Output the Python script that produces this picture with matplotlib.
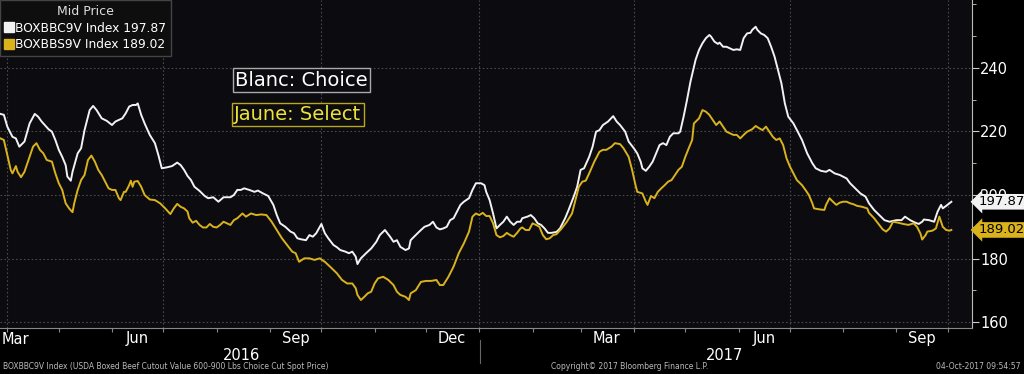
import matplotlib.pyplot as plt
import matplotlib.dates as mdates
from matplotlib.ticker import MultipleLocator, FixedLocator
from matplotlib.lines import Line2D
import pandas as pd

# jours depuis le 27 mars 2016
start = pd.Timestamp('2016-03-27')

choice_days = [1, 3, 5, 8, 10, 12, 15, 18, 21, 23, 25, 29, 31, 33, 35, 37, 39, 40, 42, 43,
               46, 48, 50, 53, 55, 57, 60, 63, 66, 68, 70, 72, 74, 76, 78, 80, 81, 83, 85, 88,
               91, 93, 95, 98, 101, 104, 106, 108, 110, 112, 114, 117, 120, 122, 125, 128, 131, 135, 137, 139,
               141, 143, 146, 149, 151, 154, 157, 160, 162, 164, 167, 170, 172, 174, 176, 179, 181, 183, 185, 188,
               190, 192, 195, 197, 199, 202, 204, 206, 208, 209, 211, 214, 217, 220, 222, 225, 228, 230, 232, 234,
               237, 239, 240, 242, 245, 248, 251, 253, 255, 257, 259, 261, 263, 265, 267, 269, 271, 274, 276, 278,
               281, 283, 284, 286, 288, 290, 292, 294, 296, 298, 300, 302, 304, 305, 308, 310, 312, 314, 316, 318,
               320, 322, 325, 327, 330, 332, 335, 337, 339, 341, 344, 346, 348, 350, 352, 355, 358, 360, 362, 365,
               367, 370, 372, 374, 375, 377, 379, 381, 383, 385, 387, 389, 391, 393, 396, 397, 399, 401, 403, 405,
               406, 408, 410, 412, 414, 415, 417, 419, 420, 422, 424, 426, 428, 430, 432, 434, 436, 438, 439, 441,
               442, 444, 446, 448, 450, 452, 454, 456, 458, 460, 463, 465, 468, 471, 474, 476, 479, 482, 484, 487,
               490, 494, 496, 499, 502, 505, 507, 510, 513, 516, 519, 523, 526, 528, 531, 534, 536, 538, 539, 542,
               545, 547, 549, 550, 552, 555]
choice = [225.5, 225.2, 221.5, 218.3, 217.8, 215.2, 216.8, 222.5, 225.5, 224.6, 223.1, 220.7, 219.9, 217.3, 214.2, 212.0, 209.4, 205.8, 204.5, 207.3,
          213.1, 214.7, 220.4, 226.7, 228.0, 226.7, 224.1, 223.3, 222.0, 223.1, 223.6, 224.1, 225.7, 227.8, 228.3, 228.3, 228.8, 225.2, 222.5, 218.9,
          216.3, 212.6, 208.4, 208.7, 209.1, 210.2, 209.4, 207.9, 206.0, 204.7, 202.6, 201.3, 199.7, 199.0, 199.3, 197.9, 199.3, 199.3, 200.0, 201.6,
          201.6, 202.1, 201.6, 201.0, 201.4, 200.5, 199.7, 196.9, 193.7, 191.1, 190.0, 188.5, 188.0, 186.4, 186.1, 185.8, 187.4, 186.9, 188.0, 190.9,
          188.0, 186.4, 184.3, 183.6, 182.7, 182.2, 181.7, 182.2, 180.6, 178.3, 180.1, 181.7, 183.2, 185.3, 187.4, 189.0, 186.9, 185.3, 185.8, 183.7,
          182.7, 183.2, 185.8, 186.9, 188.5, 190.0, 190.6, 191.6, 189.8, 189.2, 189.5, 190.0, 192.1, 192.7, 194.8, 196.9, 197.9, 199.0, 201.6, 203.7,
          203.7, 203.1, 201.0, 198.4, 194.2, 189.5, 190.6, 191.6, 193.2, 191.6, 190.6, 191.6, 191.6, 192.7, 193.2, 193.7, 192.7, 191.1, 190.6, 189.5,
          188.1, 188.1, 188.4, 189.5, 192.7, 195.3, 199.5, 202.6, 207.9, 208.4, 212.0, 215.2, 219.9, 220.4, 222.0, 223.1, 224.8, 223.1, 222.0, 219.9,
          216.8, 214.7, 213.1, 210.5, 208.4, 207.6, 208.9, 210.5, 213.1, 215.7, 216.3, 215.7, 218.3, 219.4, 219.4, 219.9, 224.6, 229.9, 235.6, 240.3,
          242.5, 245.6, 247.7, 249.3, 250.3, 249.8, 248.2, 247.5, 247.9, 246.6, 246.6, 246.1, 245.6, 245.8, 245.6, 249.3, 250.8, 251.0, 251.9, 252.9,
          251.9, 250.8, 250.3, 249.3, 246.6, 243.5, 239.3, 235.1, 228.8, 224.6, 222.5, 220.4, 217.3, 213.1, 210.0, 208.4, 207.6, 207.3, 207.9, 206.8,
          206.3, 205.2, 203.7, 202.1, 200.5, 199.5, 197.4, 195.3, 193.7, 192.1, 191.6, 192.1, 192.1, 193.2, 192.1, 191.3, 190.9, 191.6, 192.3, 192.1,
          191.6, 194.8, 196.9, 195.8, 196.6, 197.87]

select_days = [1, 3, 5, 7, 8, 10, 11, 13, 15, 18, 20, 22, 24, 26, 28, 31, 33, 35, 37, 39,
               41, 43, 44, 46, 48, 50, 52, 54, 56, 58, 60, 62, 64, 66, 68, 70, 71, 73, 74, 76,
               77, 78, 79, 81, 83, 85, 88, 91, 94, 97, 100, 102, 104, 106, 108, 110, 111, 113, 115, 117,
               119, 121, 123, 125, 127, 129, 131, 133, 135, 137, 139, 141, 142, 144, 147, 150, 153, 156, 159, 162,
               165, 168, 171, 173, 175, 178, 181, 184, 187, 190, 193, 197, 200, 203, 206, 208, 209, 211, 213, 215,
               217, 219, 221, 224, 227, 230, 232, 234, 237, 239, 240, 243, 246, 249, 252, 255, 257, 259, 262, 265,
               268, 271, 274, 276, 278, 280, 282, 284, 286, 288, 290, 292, 294, 296, 298, 300, 302, 304, 305, 307,
               309, 311, 313, 315, 317, 319, 321, 323, 325, 328, 331, 334, 336, 338, 340, 342, 344, 347, 350, 352,
               354, 357, 359, 362, 364, 367, 369, 371, 372, 375, 377, 378, 380, 382, 384, 386, 388, 390, 392, 394,
               396, 398, 400, 402, 404, 405, 408, 410, 412, 414, 416, 418, 420, 422, 424, 426, 428, 430, 432, 434,
               436, 438, 439, 441, 443, 445, 447, 449, 451, 453, 455, 457, 459, 461, 463, 465, 468, 470, 472, 474,
               475, 478, 481, 482, 484, 486, 488, 490, 492, 494, 496, 498, 500, 503, 506, 507, 510, 513, 515, 517,
               519, 521, 524, 527, 530, 533, 535, 537, 538, 540, 541, 544, 546, 548, 550, 552, 554, 555]
select = [217.8, 217.3, 212.6, 207.9, 206.8, 209.1, 207.3, 205.6, 207.3, 212.0, 215.2, 216.3, 214.2, 213.1, 211.0, 210.5, 206.8, 203.7, 201.6, 197.4,
          195.8, 194.6, 197.4, 201.6, 204.7, 206.3, 211.0, 212.4, 210.5, 207.9, 206.3, 204.2, 202.1, 201.6, 201.6, 199.0, 198.4, 201.0, 201.0, 203.1,
          204.5, 202.6, 204.2, 204.4, 202.6, 200.0, 198.6, 198.4, 197.4, 195.8, 194.0, 195.8, 197.2, 196.3, 195.8, 194.8, 192.7, 191.3, 191.9, 190.6,
          189.8, 189.8, 190.9, 190.0, 189.8, 190.6, 191.6, 191.1, 190.6, 192.1, 192.7, 193.7, 194.2, 193.2, 194.2, 193.7, 193.9, 193.7, 191.6, 189.0,
          186.4, 184.3, 182.2, 181.7, 179.0, 180.1, 180.1, 179.6, 180.1, 179.0, 177.5, 175.4, 173.3, 172.2, 172.2, 170.7, 168.6, 167.0, 168.0, 169.1,
          169.6, 172.2, 173.8, 174.3, 173.3, 171.7, 169.6, 168.6, 168.0, 167.0, 169.1, 170.1, 172.7, 173.0, 173.0, 173.3, 171.7, 171.7, 174.3, 177.5,
          181.7, 184.8, 188.5, 193.2, 194.2, 193.7, 194.4, 193.4, 193.4, 191.1, 187.4, 186.7, 187.1, 188.1, 187.4, 186.9, 188.1, 189.5, 189.8, 189.0,
          189.0, 191.1, 190.6, 190.0, 187.4, 186.1, 186.4, 187.4, 187.7, 189.5, 191.6, 194.2, 198.4, 202.6, 204.2, 204.5, 206.8, 210.5, 213.6, 214.2,
          214.2, 215.2, 216.3, 216.0, 214.7, 212.0, 207.9, 203.1, 201.0, 200.5, 197.9, 196.9, 199.7, 199.0, 201.0, 202.1, 203.1, 204.2, 204.7, 206.3,
          207.9, 208.9, 212.0, 214.7, 217.3, 222.5, 224.1, 226.7, 226.2, 225.2, 223.6, 222.0, 223.1, 221.5, 219.9, 219.4, 218.9, 218.9, 217.8, 218.9,
          219.9, 220.4, 220.7, 221.7, 221.0, 220.4, 221.5, 219.9, 218.3, 217.3, 217.8, 215.7, 211.5, 208.9, 206.8, 204.7, 203.1, 201.6, 200.0, 197.4,
          195.8, 195.5, 195.3, 196.9, 199.0, 197.9, 196.9, 197.6, 197.9, 197.9, 197.4, 197.1, 196.6, 196.3, 195.8, 194.4, 192.7, 190.6, 189.2, 188.5,
          189.5, 191.6, 191.3, 190.9, 190.6, 191.1, 190.0, 187.9, 186.0, 187.4, 188.5, 188.8, 189.5, 193.2, 190.0, 189.0, 188.8, 189.02]

names = ['BOXBBC9V Index', 'BOXBBS9V Index']
last_vals = [197.87, 189.02]
y_labels = [160, 180, 200, 220, 240]

white = '#f2f2f2'
gold = '#d9b21c'

choice_dates = start + pd.to_timedelta(choice_days, unit='D')
select_dates = start + pd.to_timedelta(select_days, unit='D')

fig = plt.figure(figsize=(10.24, 3.74), dpi=100, facecolor='black')
ax = fig.add_axes([0.0, 0.123, 0.949, 0.877])
ax.set_facecolor('#0b0b10')

ax.plot(choice_dates, choice, color=white, lw=1.4, zorder=3)
ax.plot(select_dates, select, color=gold, lw=1.4, zorder=3)

ax.set_ylim(158.2, 261.3)
ax.set_xlim(start + pd.Timedelta(days=0.75), start + pd.Timedelta(days=566.9))

# axes
for s in ['top', 'left']:
    ax.spines[s].set_visible(False)
ax.spines['right'].set_color('#bbbbbb')
ax.spines['bottom'].set_color('#888888')
ax.yaxis.tick_right()
ax.yaxis.set_major_locator(FixedLocator(y_labels))
ax.yaxis.set_minor_locator(MultipleLocator(10))
ax.tick_params(axis='y', which='both', colors='#cccccc', labelcolor='white', labelsize=10.5, direction='out')
ax.tick_params(axis='y', which='major', length=5, pad=1)
ax.tick_params(axis='y', which='minor', length=3)

ax.xaxis.set_major_locator(mdates.MonthLocator())
ax.xaxis.set_major_formatter(plt.NullFormatter())
ax.xaxis.set_minor_locator(mdates.MonthLocator(bymonth=[3, 6, 9, 12], bymonthday=16))
ax.xaxis.set_minor_formatter(mdates.DateFormatter('%b'))
ax.tick_params(axis='x', which='major', length=3, color='#888888')
ax.tick_params(axis='x', which='minor', length=0, labelcolor='white', labelsize=10.5, pad=2)
ax.text(0.002, -0.012, 'Mar', transform=ax.transAxes, color='white', fontsize=10.5, ha='left', va='top')

# grille
ax.grid(axis='y', which='major', color='#4a4a4a', ls=(0, (1.5, 2)), lw=0.8)
for d in pd.date_range('2016-04-01', '2017-10-01', freq='QS-JAN'):
    ax.axvline(d, color='#4a4a4a', ls=(0, (1.5, 2)), lw=0.8, zorder=1)

# années
fig.text(0.236, 0.05, '2016', color='white', fontsize=10.5, ha='center', va='center')
fig.text(0.708, 0.05, '2017', color='white', fontsize=10.5, ha='center', va='center')
fig.add_artist(Line2D([0.469, 0.469], [0.03, 0.09], color='#666666', lw=0.8))

# légende
handles = [Line2D([], [], marker='s', ls='', color=c, markersize=7) for c in [white, gold]]
labels = ['%s %.2f' % (n, v) for n, v in zip(names, last_vals)]
leg = ax.legend(handles, labels, title='Mid Price', loc='upper left', bbox_to_anchor=(0, 1),
                borderaxespad=0, frameon=True, fontsize=8.8, handlelength=0.6, handletextpad=0.2,
                labelspacing=0.3, borderpad=0.4, labelcolor='white')
leg.get_title().set_color('#dddddd')
leg.get_title().set_fontsize(9)
leg.get_frame().set_facecolor('#0e0e0e')
leg.get_frame().set_edgecolor('#444444')
leg.get_frame().set_alpha(1)
leg.get_frame().set_boxstyle('square', pad=0)

# encadrés
ax.text(0.242, 0.756, 'Blanc: Choice', transform=ax.transAxes, color='white', fontsize=14, va='center',
        bbox=dict(boxstyle='square,pad=0.12', fc='#0b0b10', ec='#aaaaaa', lw=1))
ax.text(0.241, 0.651, 'Jaune: Select', transform=ax.transAxes, color='#ece23a', fontsize=14, va='center',
        bbox=dict(boxstyle='square,pad=0.12', fc='#0b0b10', ec='#bba81a', lw=1))

# étiquettes de dernière valeur
for v, fc in zip(last_vals, [white, gold]):
    ax.annotate('%.2f' % v, xy=(1.0, v), xycoords=('axes fraction', 'data'), xytext=(5, 0),
                textcoords='offset points', va='center', ha='left', fontsize=9.5, color='black',
                bbox=dict(boxstyle='larrow,pad=0.1', fc=fc, ec='none'), zorder=5, annotation_clip=False)

# pied de page
fig.text(0.003, 0.02, 'BOXBBC9V Index (USDA Boxed Beef Cutout Value 600-900 Lbs Choice Cut Spot Price)',
         color='#bbbbbb', fontsize=5.5, ha='left', va='center')
fig.text(0.615, 0.02, 'Copyright\u00a9 2017 Bloomberg Finance L.P.', color='#bbbbbb', fontsize=5.5,
         ha='center', va='center')
fig.text(0.997, 0.02, '04-Oct-2017 09:54:57', color='#bbbbbb', fontsize=5.5, ha='right', va='center')

fig.savefig('out.png', dpi=100, facecolor='black')
